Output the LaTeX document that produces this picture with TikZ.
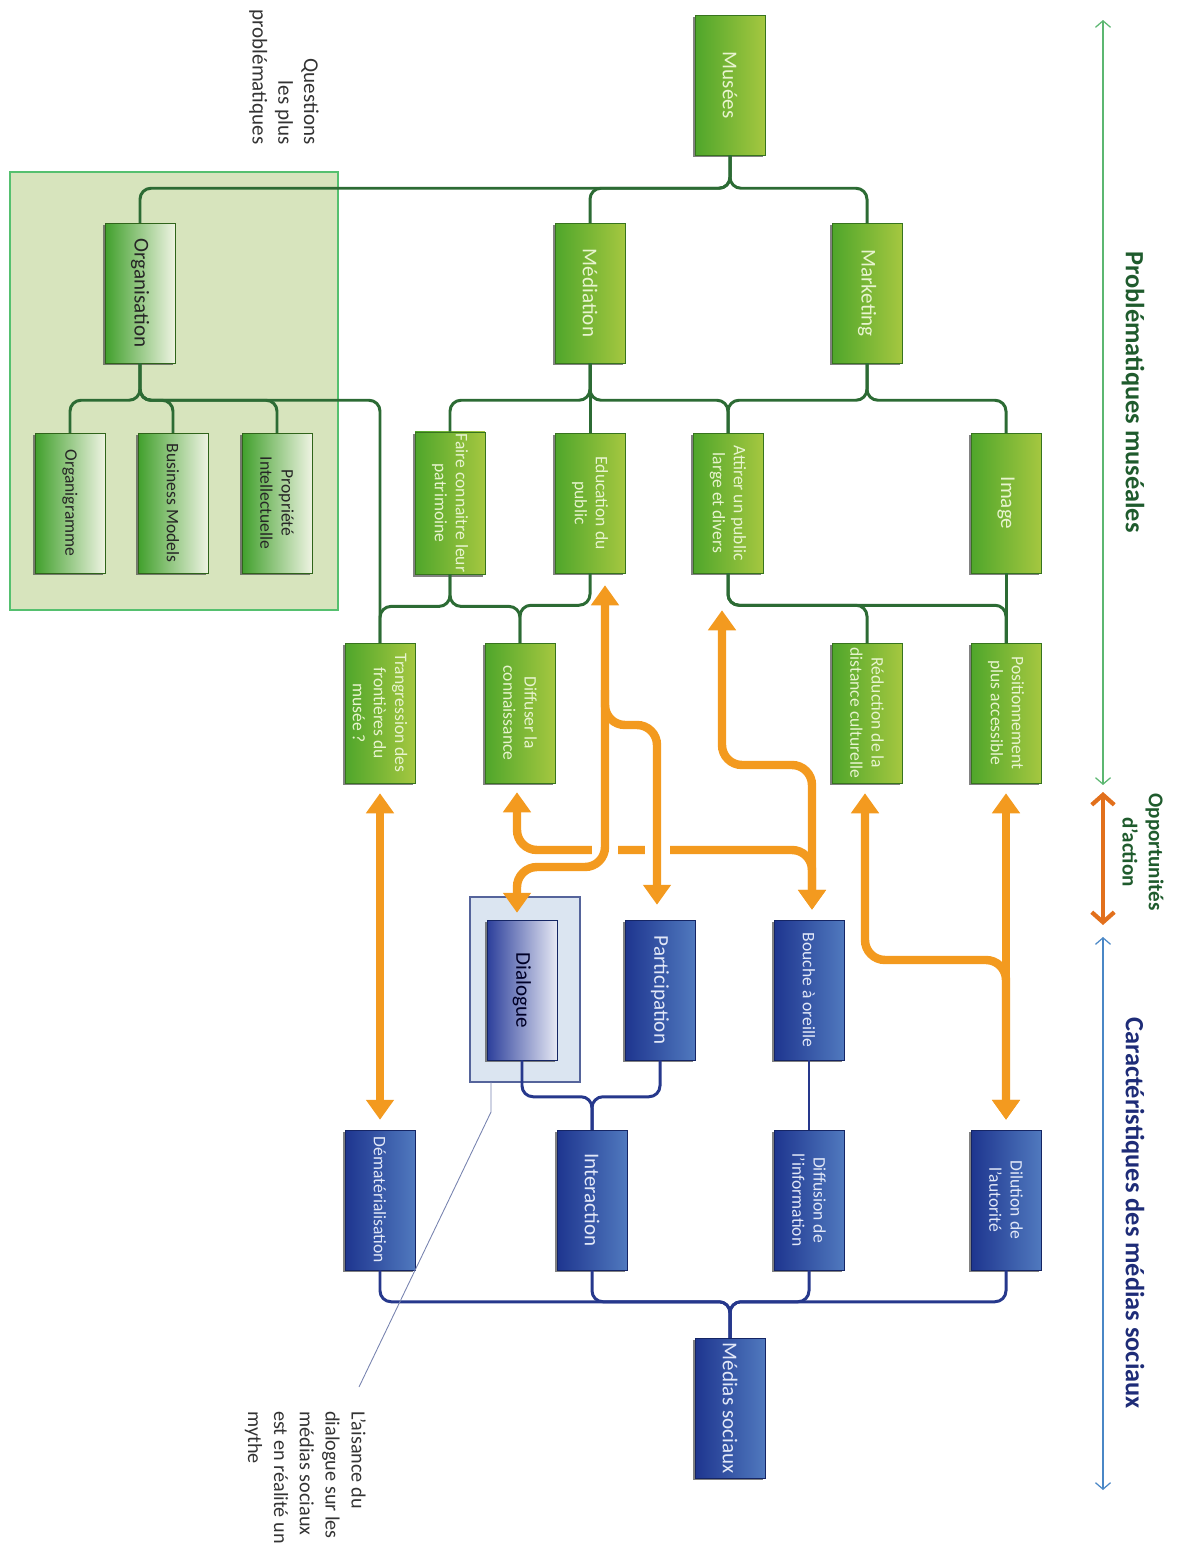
\documentclass[tikz,border=0pt]{standalone}
\usepackage{fontspec}
\setmainfont{Carlito}
\usetikzlibrary{arrows.meta,shadows}

\definecolor{gdark}{HTML}{4FA62B}
\definecolor{glight}{HTML}{A5C740}
\definecolor{gtext}{HTML}{E8F4CF}
\definecolor{gline}{HTML}{2C6B34}
\definecolor{odark}{HTML}{41A02C}
\definecolor{olight}{HTML}{EEF3E2}
\definecolor{bdark}{HTML}{1E358F}
\definecolor{blight}{HTML}{5079BE}
\definecolor{btext}{HTML}{E2E8F8}
\definecolor{bline}{HTML}{26388C}
\definecolor{ddark}{HTML}{2C3F9B}
\definecolor{dlight}{HTML}{E6E8F4}
\definecolor{arrorange}{HTML}{F39A1F}
\definecolor{orgfill}{HTML}{D7E4BD}
\definecolor{orgedge}{HTML}{55C06F}
\definecolor{dlgfill}{HTML}{DBE5F1}
\definecolor{dlgedge}{HTML}{55649B}
\definecolor{titgreen}{HTML}{1F5B2D}
\definecolor{titblue}{HTML}{1E2C77}
\definecolor{scgreen}{HTML}{5CB771}
\definecolor{scorange}{HTML}{E2701C}
\definecolor{scblue}{HTML}{4A87C6}

\tikzset{
  box/.style={rectangle, rotate=-90, minimum width=2.8cm, minimum height=1.4cm,
    inner sep=1pt, align=center, line width=0.3pt,
    drop shadow={shadow xshift=-1.4pt, shadow yshift=-1.4pt, opacity=0.7, fill=black!70}},
  gbox/.style={box, draw=gdark!70!black, left color=gdark, right color=glight, text=gtext},
  obox/.style={box, draw=gdark!60!black, left color=odark, right color=olight, text=black!85},
  bbox/.style={box, draw=bdark!70!black, left color=bdark, right color=blight, text=btext},
  dbox/.style={box, draw=bdark!70!black, left color=ddark, right color=dlight, text=black!85!blue},
  big/.style={font=\fontsize{12}{14}\selectfont},
  small/.style={font=\fontsize{10}{12}\selectfont},
  gtree/.style={draw=gline, line width=1.7pt, rounded corners=0.22cm},
  btree/.style={draw=bline, line width=1.7pt, rounded corners=0.22cm},
  flow/.style={draw=arrorange, line width=4.8pt, rounded corners=0.4cm},
  gap/.style={draw=white, line width=5.5pt},
  orgframe/.style={draw=orgedge, fill=orgfill, line width=0.8pt},
  dlgframe/.style={draw=dlgedge, fill=dlgfill, line width=0.6pt},
  title/.style={rotate=-90, font=\bfseries\fontsize{15}{18}\selectfont},
  note/.style={rotate=-90, text=black!80, font=\fontsize{12}{14.7}\selectfont}
}

\begin{document}
\begin{tikzpicture}[x=0.02cm, y=-0.02cm, >={Triangle[width=0.54cm,length=0.4cm]}]
\useasboundingbox (0,0) rectangle (1183,1552);

% frames
\draw[orgframe] (10,172) rectangle (338,610);
\draw[dlgframe] (470,897) rectangle (580,1082);
\coordinate (dlgfoot) at (491,1082);

% museum side
\node[gbox,big] (musees) at (730,85) {Musées};
\node[obox,big] (orga) at (140,293) {Organisation};
\node[gbox,big] (media) at (590,293) {Médiation};
\node[gbox,big] (market) at (867,293) {Marketing};

\node[obox,small] (organi) at (70,503) {Organigramme};
\node[obox,small] (busmod) at (173,503) {Business Models};
\node[obox,small] (propint) at (277,503) {Propriété\\Intellectuelle};
\node[gbox,small] (patri) at (450,503) {Faire connaitre leur\\patrimoine};
\node[gbox,small] (educ) at (590,503) {Education du\\public};
\node[gbox,small] (attir) at (728,503) {Attirer un public\\large et divers};
\node[gbox,big] (image) at (1006,503) {Image};

\node[gbox,small] (transg) at (380,713) {Trangression des\\frontières du\\musée ?};
\node[gbox,small] (diffu) at (520,713) {Diffuser la\\connaissance};
\node[gbox,small] (reduc) at (867,713) {Réduction de la\\distance culturelle};
\node[gbox,small] (posit) at (1006,713) {Positionnement\\plus accessible};

% social media side
\node[dbox,big] (dialog) at (522,990) {Dialogue};
\node[bbox,big] (partic) at (660,990) {Participation};
\node[bbox,small] (bouche) at (809,990) {Bouche à oreille};

\node[bbox,small] (demat) at (380,1200) {Dématérialisation};
\node[bbox,big] (interac) at (592,1200) {Interaction};
\node[bbox,small] (diffinf) at (809,1200) {Diffusion de\\l’information};
\node[bbox,small] (dilut) at (1006,1200) {Dilution de\\l’autorité};

\node[bbox,big] (medsoc) at (730,1408) {Médias sociaux};

% green tree
\draw[gtree] (musees.east) -- ++(0,33) -| (orga.west);
\draw[gtree] (musees.east) -- ++(0,33) -| (media.west);
\draw[gtree] (musees.east) -- ++(0,33) -| (market.west);
\draw[gtree] (orga.east) -- ++(0,37) -| (organi.west);
\draw[gtree] (orga.east) -- ++(0,37) -| (busmod.west);
\draw[gtree] (orga.east) -- ++(0,37) -| (propint.west);
\draw[gtree] (orga.east) -- ++(0,37) -| (transg.west);
\draw[gtree] (media.east) -- ++(0,37) -| (patri.west);
\draw[gtree] (media.east) -- (educ.west);
\draw[gtree] (media.east) -- ++(0,37) -| (attir.west);
\draw[gtree] (market.east) -- ++(0,37) -| (attir.west);
\draw[gtree] (market.east) -- ++(0,37) -| (image.west);
\draw[gtree] (patri.east) -- ++(0,32) -| (transg.west);
\draw[gtree] (patri.east) -- ++(0,32) -| (diffu.west);
\draw[gtree] (educ.east) -- ++(0,32) -| (diffu.west);
\draw[gtree] (attir.east) -- ++(0,32) -| (reduc.west);
\draw[gtree] (attir.east) -- ++(0,32) -| (posit.west);
\draw[gtree] (image.east) -- (posit.west);

% blue tree
\draw[btree] (medsoc.west) -- ++(0,-36) -| (demat.east);
\draw[btree] (medsoc.west) -- ++(0,-36) -| (interac.east);
\draw[btree] (medsoc.west) -- ++(0,-36) -| (diffinf.east);
\draw[btree] (medsoc.west) -- ++(0,-36) -| (dilut.east);
\draw[btree] (interac.west) -- ++(0,-33) -| (dialog.east);
\draw[btree] (interac.west) -- ++(0,-33) -| (partic.east);
\draw[bline, line width=1.1pt] (bouche.east) -- (diffinf.west);

% opportunities
\draw[flow,<->] ([shift={(-3,9)}]diffu.east) |- (812,850) -- ([shift={(3,-10)}]bouche.west);
\draw[gap] (592,850) -- (618,850);
\draw[gap] (645,850) -- (670,850);
\draw[flow,<->] ([shift={(0,10)}]transg.east) -- ([shift={(0,-10)}]demat.west);
\draw[flow,<->] ([shift={(15,12)}]educ.east) |- (517,867) -- ([shift={(-5,-7)}]dialog.west);
\draw[flow,->] (605,690) |- (657,725) -- ([shift={(-3,-15)}]partic.west);
\draw[flow,<->] ([shift={(-6,37)}]attir.east) |- (812,765) -- ([shift={(3,-10)}]bouche.west);
\draw[flow,<->] ([shift={(-2,10)}]reduc.east) |- (1006,960) -- ([shift={(0,-10)}]dilut.west);
\draw[flow,<->] ([shift={(0,10)}]posit.east) -- ([shift={(0,-10)}]dilut.west);

% scale on the right
\coordinate (pmtop) at (1103,20);
\coordinate (pmbot) at (1103,785);
\coordinate (optop) at (1103,792);
\coordinate (opbot) at (1103,925);
\coordinate (mstop) at (1103,937);
\coordinate (msbot) at (1103,1490);
\draw[scgreen, line width=0.7pt, {Straight Barb[length=0.13cm,width=0.3cm]}-{Straight Barb[length=0.13cm,width=0.3cm]}] (pmtop) -- (pmbot);
\draw[scorange, line width=2.4pt, {Straight Barb[length=0.2cm,width=0.45cm]}-{Straight Barb[length=0.2cm,width=0.45cm]}] (optop) -- (opbot);
\draw[scblue, line width=0.7pt, {Straight Barb[length=0.13cm,width=0.3cm]}-{Straight Barb[length=0.13cm,width=0.3cm]}] (mstop) -- (msbot);

\node[title, text=titgreen] (probmus) at (1133,392) {Problématiques muséales};
\node[title, text=titgreen, align=center, font=\bfseries\fontsize{12}{15}\selectfont] (opport) at (1143,852) {Opportunités\\d’action};
\node[title, text=titblue] (caract) at (1133,1213) {Caractéristiques des médias sociaux};

% notes
\node[note, align=right] (question) at (284,77) {Questions\\les plus\\problématiques};
\node[note, align=left, anchor=north west, font=\fontsize{11.5}{14.7}\selectfont] (mythe) at (372,1405) {L’aisance du\\dialogue sur les\\médias sociaux\\est en réalité un\\mythe};
\draw[dlgedge!80, line width=0.5pt] (dlgfoot) -- ++(0,30) -- ([shift={(-13,-18)}]mythe.north west);

\end{tikzpicture}
\end{document}
